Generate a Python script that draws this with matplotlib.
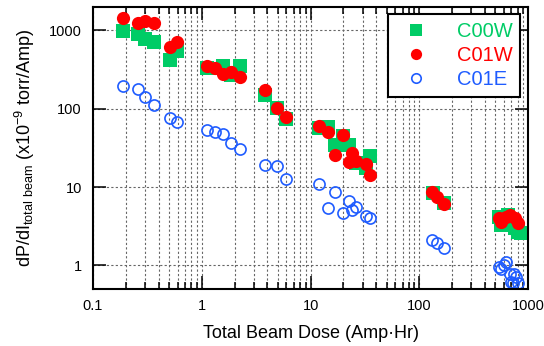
import matplotlib
matplotlib.use("Agg")
import matplotlib.pyplot as plt
from matplotlib.ticker import LogLocator, FixedLocator, NullFormatter

plt.rcParams['font.family'] = ['Liberation Sans', 'DejaVu Sans']
plt.rcParams['mathtext.fontset'] = 'custom'
plt.rcParams['mathtext.rm'] = 'Liberation Sans'

# C00W (green squares)
c00w_x = [0.189, 0.26, 0.302, 0.365, 0.513, 0.595,
          1.124, 1.58, 1.87, 2.22,
          3.77, 4.86, 5.88,
          11.85, 14.3, 16.6, 19.7, 22.4, 26.0, 35.0, 32.1,
          132, 168,
          540, 564, 654, 760, 809, 862]
c00w_y = [971, 889, 790, 703, 425, 539,
          327, 357, 274, 357,
          152, 101, 75,
          57.5, 59.2, 34.9, 45.4, 34.9, 20.5, 25.2, 17.7,
          8.48, 6.31,
          4.18, 3.31, 4.4, 3.0, 2.69, 2.61]

# C01W (red filled circles)
c01w_x = [0.189, 0.26, 0.302, 0.365, 0.513, 0.595,
          1.124, 1.33, 1.58, 1.87, 2.22,
          3.77, 4.86, 5.88,
          11.85, 14.3, 16.6, 19.7, 22.4, 23.9, 26.0, 32.1, 35.0,
          130, 145, 168,
          540, 564, 627, 683, 759, 809]
c01w_y = [1423, 1229, 1304, 1229, 607, 703,
          347, 327, 282, 299, 258,
          176, 101, 79.5,
          61, 51.1, 25.9, 46.8, 21.1, 27.5, 21.8, 19.9, 14.4,
          8.74, 7.54, 6.13,
          4.06, 3.61, 4.18, 4.44, 4.06, 3.51]

# C01E (blue open circles)
c01e_x = [0.189, 0.26, 0.302, 0.365, 0.513, 0.595,
          1.124, 1.33, 1.58, 1.87, 2.22,
          3.77, 4.86, 5.88,
          11.85, 16.6, 14.3, 22.4, 26.0, 23.9, 19.7, 32.1, 35.0,
          130, 145, 168,
          540, 564, 601, 627, 683, 697, 743, 775, 809, 727]
c01e_y = [198, 181, 143, 113, 77.2, 68.6,
          54.2, 51.1, 48.2, 37, 31,
          19.3, 18.8, 12.8,
          11.1, 8.74, 5.45, 6.7, 5.61, 5.14, 4.71, 4.31, 4.06,
          2.13, 1.94, 1.68,
          0.96, 0.906, 1.02, 1.11, 0.78, 0.617, 0.782, 0.715, 0.6, 0.6]

green = '#00cc66'
red = '#ff0000'
blue = '#1f5cff'

fig = plt.figure(figsize=(5.44, 3.46), dpi=100)
ax = fig.add_axes([0.171, 0.165, 0.800, 0.815])

ax.plot(c00w_x, c00w_y, 's', color=green, markersize=10, markeredgewidth=0, label='C00W')
ax.plot(c01w_x, c01w_y, 'o', color=red, markersize=9.5, markeredgewidth=0, label='C01W')
ax.plot(c01e_x, c01e_y, 'o', markerfacecolor='none', markeredgecolor=blue,
        markersize=8, markeredgewidth=1.2, label='C01E')

ax.set_xscale('log')
ax.set_yscale('log')
ax.set_xlim(0.1, 1000)
ax.set_ylim(0.5, 2000)

ax.xaxis.set_major_locator(FixedLocator([0.1, 1, 10, 100, 1000]))
ax.xaxis.set_minor_locator(LogLocator(base=10, subs=range(2, 10)))
ax.xaxis.set_minor_formatter(NullFormatter())
ax.set_xticklabels(['0.1', '1', '10', '100', '1000'])
ax.yaxis.set_major_locator(FixedLocator([1, 10, 100, 1000]))
ax.yaxis.set_minor_locator(FixedLocator([]))
ax.set_yticklabels(['1', '10', '100', '1000'])

ax.grid(True, which='major', axis='both', color='#666666', linestyle=(0, (2, 2)), linewidth=0.8)
ax.grid(True, which='minor', axis='x', color='#666666', linestyle=(0, (2, 2)), linewidth=0.8)

ax.tick_params(which='both', direction='in', top=True, right=True, width=1.1, labelsize=10.5)
ax.tick_params(which='major', length=9.5)
ax.tick_params(which='minor', length=5)
ax.tick_params(axis='x', pad=7)
ax.tick_params(axis='y', pad=8)
for s in ax.spines.values():
    s.set_linewidth(1.5)

ax.set_xlabel('Total Beam Dose (Amp\u00b7Hr)', fontsize=13, labelpad=9)
ax.set_ylabel(r'dP/dI$_{\mathregular{total\ beam}}$ (x10$^{\mathregular{-9}}$ torr/Amp)', fontsize=13, labelpad=9)

leg = ax.legend(loc='upper right', fontsize=14.5, frameon=True, fancybox=False,
                borderpad=0.4, handletextpad=1.0, labelspacing=0.25, handlelength=2.0,
                borderaxespad=0, bbox_to_anchor=(0.982, 0.975), markerscale=0.85)
leg.get_frame().set_edgecolor('black')
leg.get_frame().set_linewidth(1.5)
leg.get_frame().set_alpha(1)
for txt, c in zip(leg.get_texts(), [green, red, blue]):
    txt.set_color(c)

fig.savefig('out.png', dpi=100)
